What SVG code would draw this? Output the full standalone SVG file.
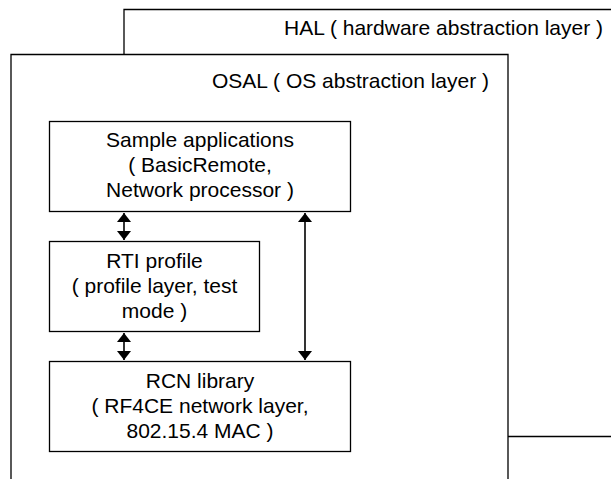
<svg xmlns="http://www.w3.org/2000/svg" width="611" height="479" viewBox="0 0 611 479">
<style>
.box{fill:#fff;stroke:#000;stroke-width:1.3}
.t{font-family:"Liberation Sans",Arial,sans-serif;font-size:21px;fill:#000}
.c{text-anchor:middle}
.r{text-anchor:end}
.conn{stroke:#000;stroke-width:1.6;fill:none;marker-start:url(#ah);marker-end:url(#ah)}
</style>
<defs>
<marker id="ah" viewBox="0 0 9 14" refX="9" refY="7" markerWidth="9" markerHeight="14" markerUnits="userSpaceOnUse" orient="auto-start-reverse">
<path d="M0,0 L9,7 L0,14 Z" fill="#000"/>
</marker>
</defs>
<g id="hal">
<path d="M124,55 V9.5 H612 M508,436.5 H612" fill="none" stroke="#000" stroke-width="1.3"/>
<text class="t r" x="603" y="35">HAL ( hardware abstraction layer )</text>
</g>
<g id="osal">
<path d="M11,480 V54.5 H508 V480" class="box"/>
<text class="t r" x="489" y="88">OSAL ( OS abstraction layer )</text>
</g>
<g id="sample">
<rect class="box" x="49.5" y="121.5" width="301" height="90"/>
<text class="t c" x="200" y="147">Sample applications</text>
<text class="t c" x="200" y="172">( BasicRemote,</text>
<text class="t c" x="200" y="197">Network processor )</text>
</g>
<g id="rti">
<rect class="box" x="49.5" y="241.5" width="210" height="90"/>
<text class="t c" x="154.5" y="268">RTI profile</text>
<text class="t c" x="154.5" y="293">( profile layer, test</text>
<text class="t c" x="154.5" y="318">mode )</text>
</g>
<g id="rcn">
<rect class="box" x="49.5" y="361.5" width="301" height="90"/>
<text class="t c" x="200" y="388">RCN library</text>
<text class="t c" x="200" y="413">( RF4CE network layer,</text>
<text class="t c" x="200" y="438">802.15.4 MAC )</text>
</g>
<g id="connectors">
<line class="conn" x1="124" y1="213" x2="124" y2="240"/>
<line class="conn" x1="124" y1="333" x2="124" y2="360"/>
<line class="conn" x1="305" y1="213" x2="305" y2="360"/>
</g>
</svg>
